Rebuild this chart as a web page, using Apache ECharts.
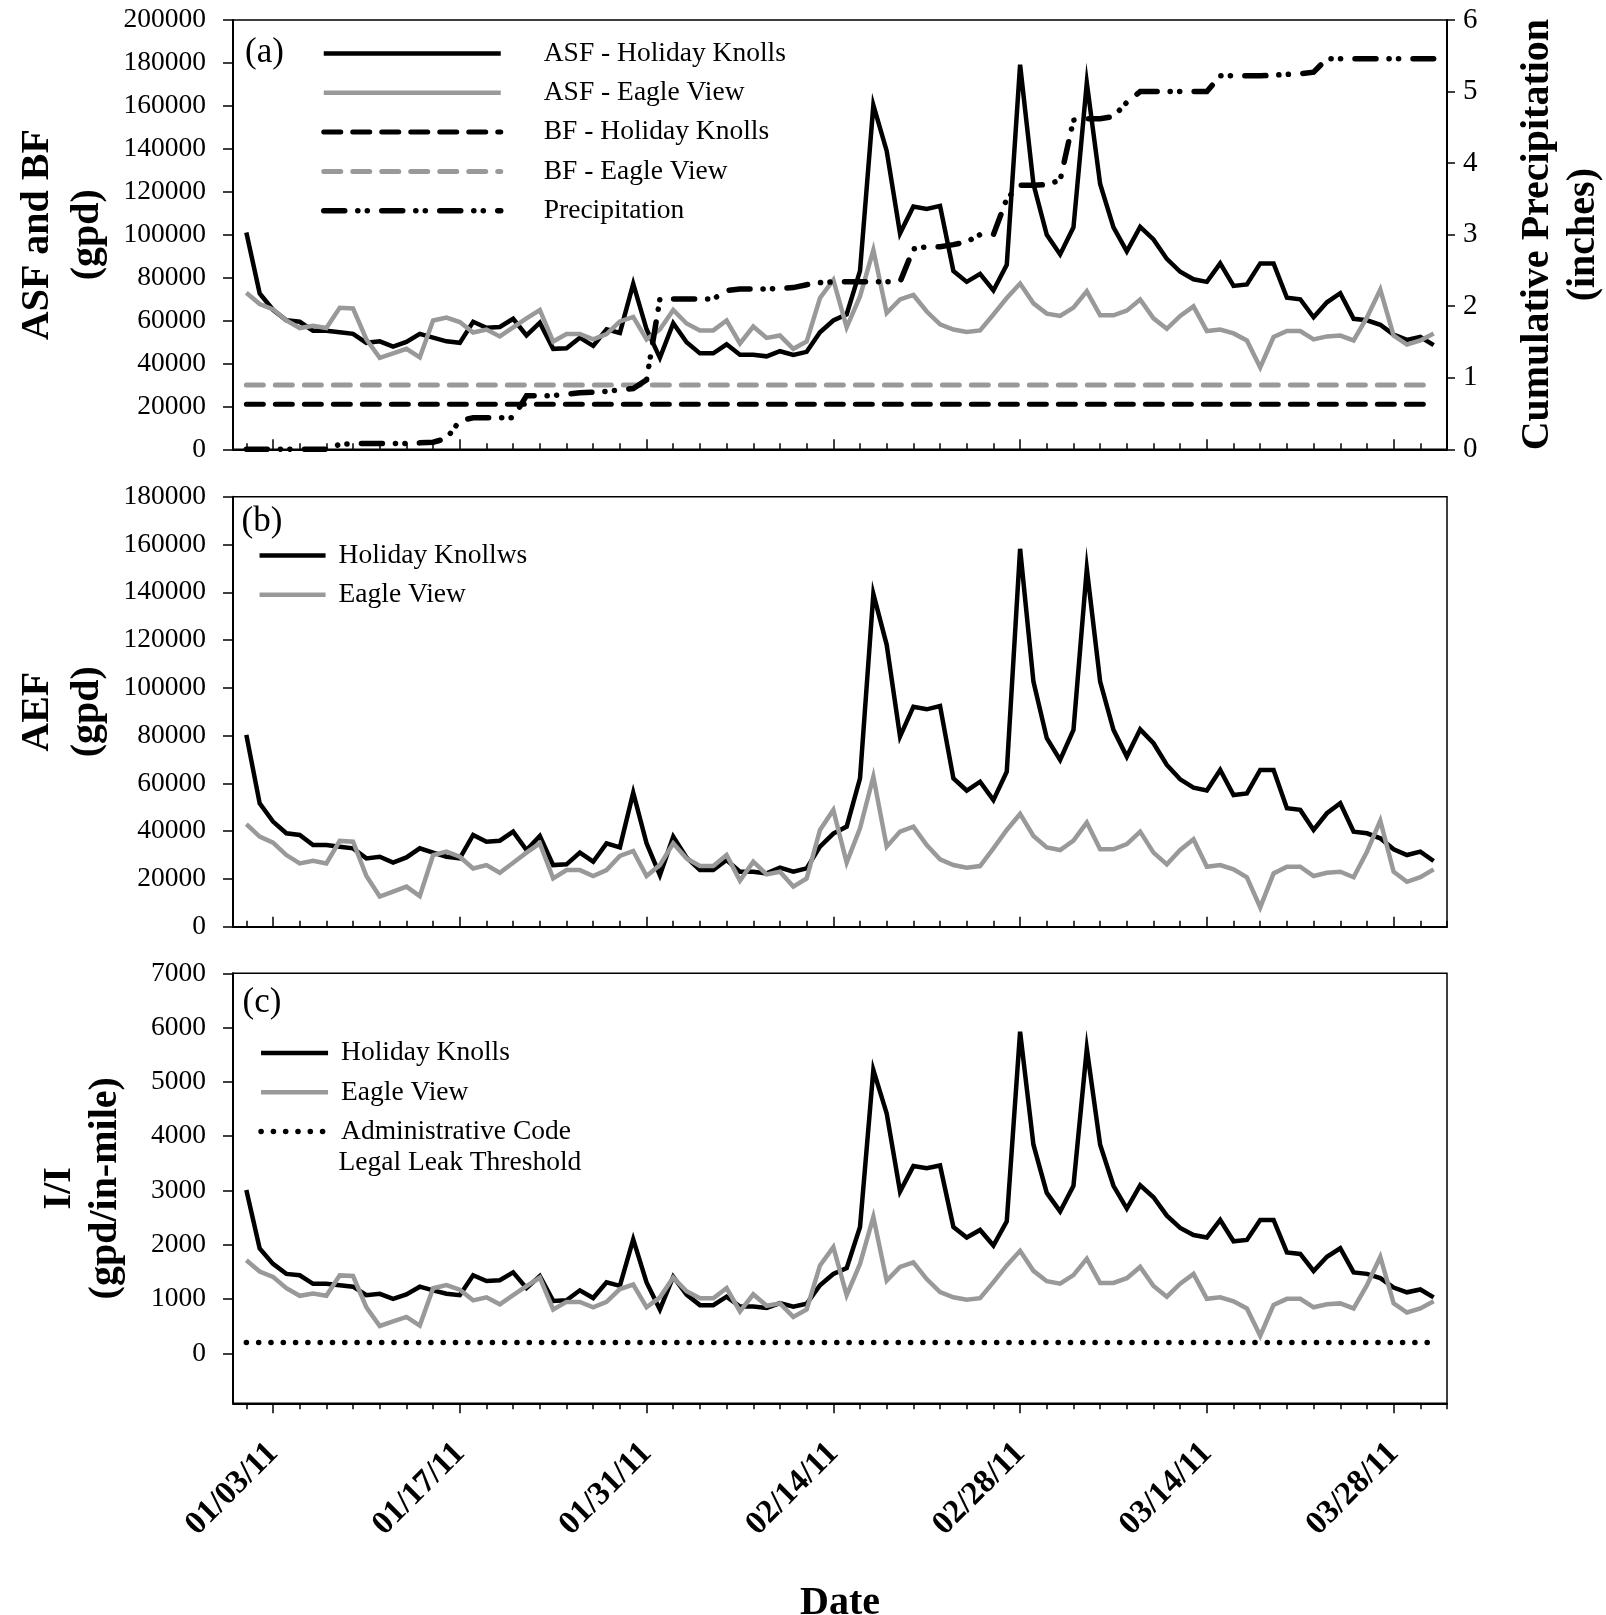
<!DOCTYPE html>
<html><head><meta charset="utf-8">
<script src="https://cdn.jsdelivr.net/npm/echarts@6/dist/echarts.min.js"></script>
<style>html,body{margin:0;padding:0;background:#fff}#c{width:1606px;height:1615px}</style>
</head><body><div id="c"></div>
<script>
// ---- Data (daily, 01/01/11 .. 03/31/11) ----
const asfHolidayKnolls = [101000,72600,65000,60100,59400,55200,55200,54500,53800,49600,50300,47800,50000,53800,52000,50300,49600,59400,56600,57000,60800,53100,59000,46800,47100,52000,48200,55900,54200,77100,55900,42600,58700,49900,44700,44700,48900,44000,44000,43300,45700,44000,45400,54500,60000,62900,83100,160300,139000,100600,113100,112000,113400,83100,78000,81700,74000,85900,179200,123600,99900,90800,103400,170800,123600,103400,92200,103600,97800,88700,82700,79200,78000,86600,76100,76800,86600,86600,70600,69900,61500,68500,72700,60800,60100,58000,53400,51000,52400,48500];
const asfEagleView = [72900,67700,65200,60000,56500,57600,56500,65900,65600,51200,42600,44700,46800,42800,60000,61400,59300,54400,55800,52600,56800,61000,64900,50200,53700,53700,51200,53700,59600,61700,51200,55800,64900,58600,55400,55400,60000,49300,57200,51900,53000,46800,50200,70500,78900,56800,71200,92800,63500,69800,71900,64200,58200,55800,54700,55400,62800,70500,77200,68000,63200,62100,66000,73600,62400,62400,64600,69800,61000,56100,62100,66600,55100,55800,54000,50700,38100,52300,55100,55100,51200,52600,53000,50700,61400,74400,53000,48800,50700,54000];
const bfHolidayKnolls = 21000;
const bfEagleView = 30000;
const precipitation = [0,0,0,0,0,0,0,0.07,0.08,0.08,0.08,0.08,0.08,0.09,0.10,0.15,0.40,0.44,0.44,0.44,0.44,0.75,0.75,0.75,0.77,0.79,0.80,0.81,0.83,0.85,0.97,2.10,2.10,2.10,2.10,2.10,2.22,2.24,2.24,2.24,2.25,2.26,2.30,2.33,2.34,2.34,2.34,2.34,2.34,2.34,2.80,2.83,2.83,2.86,2.90,3.00,3.00,3.50,3.69,3.69,3.70,3.76,4.60,4.62,4.62,4.65,4.85,5.00,5.00,5.00,5.00,5.00,5.00,5.22,5.22,5.22,5.22,5.23,5.24,5.25,5.27,5.46,5.46,5.46,5.46,5.46,5.46,5.46,5.46,5.46];
const aefHolidayKnolls = [80300,51600,44000,39100,38400,34200,34200,33500,32800,28600,29300,26800,29000,32800,31000,29300,28600,38400,35600,36000,39800,32100,38000,25800,26100,31000,27200,34900,33200,56100,34900,21600,37700,28900,23700,23700,27900,23000,23000,22300,24700,23000,24400,33500,39000,41900,62100,139300,118000,79600,92100,91000,92400,62100,57000,60700,53000,64900,158200,102600,78900,69800,82400,149800,102600,82400,71200,82600,76800,67700,61700,58200,57000,65600,55100,55800,65600,65600,49600,48900,40500,47500,51700,39800,39100,37000,32400,30000,31400,27500];
const aefEagleView = [42900,37700,35200,30000,26500,27600,26500,35900,35600,21200,12600,14700,16800,12800,30000,31400,29300,24400,25800,22600,26800,31000,34900,20200,23700,23700,21200,23700,29600,31700,21200,25800,34900,28600,25400,25400,30000,19300,27200,21900,23000,16800,20200,40500,48900,26800,41200,62800,33500,39800,41900,34200,28200,25800,24700,25400,32800,40500,47200,38000,33200,32100,36000,43600,32400,32400,34600,39800,31000,26100,32100,36600,25100,25800,24000,20700,8100,22300,25100,25100,21200,22600,23000,20700,31400,44400,23000,18800,20700,24000];
const iiHolidayKnolls = [3010,1933,1648,1464,1438,1281,1281,1255,1228,1071,1097,1004,1086,1228,1161,1097,1071,1438,1333,1348,1491,1202,1423,966,978,1161,1019,1307,1243,2101,1307,809,1412,1082,888,888,1045,861,861,835,925,861,914,1255,1461,1569,2326,5217,4419,2981,3449,3408,3461,2326,2135,2273,1985,2431,5925,3843,2955,2614,3086,5610,3843,3086,2667,3094,2876,2536,2311,2180,2135,2457,2064,2090,2457,2457,1858,1831,1517,1779,1936,1491,1464,1386,1213,1124,1176,1030];
const iiEagleView = [1716,1508,1408,1200,1060,1104,1060,1436,1424,848,504,588,672,512,1200,1256,1172,976,1032,904,1072,1240,1396,808,948,948,848,948,1184,1268,848,1032,1396,1144,1016,1016,1200,772,1088,876,920,672,808,1620,1956,1072,1648,2512,1340,1592,1676,1368,1128,1032,988,1016,1312,1620,1888,1520,1328,1284,1440,1744,1296,1296,1384,1592,1240,1044,1284,1464,1004,1032,960,828,324,892,1004,1004,848,904,920,828,1256,1776,920,752,828,960];
const legalLeakThreshold = 200;
const tickLabels = ['01/03/11','01/17/11','01/31/11','02/14/11','02/28/11','03/14/11','03/28/11'];
const iiTickValues = [0,1000,2000,3000,4000,5000,6000,7000];

// ---- categories: 12/31/10 .. 04/01/11 (one padding day each side) ----
const pad2 = n => (n < 10 ? '0' : '') + n;
const categories = [];
const t0 = Date.UTC(2010, 11, 31);
for (let k = 0; k < asfHolidayKnolls.length + 2; k++) {
  const dt = new Date(t0 + k * 86400000);
  categories.push(pad2(dt.getUTCMonth() + 1) + '/' + pad2(dt.getUTCDate()) + '/' + pad2(dt.getUTCFullYear() % 100));
}
const padded = arr => [null].concat(arr, [null]);
const constant = v => padded(asfHolidayKnolls.map(() => v));

const SERIF = 'Liberation Serif';
const GRAY = '#999999';
const L = 233, W = 1214;
const grids = [
  {left: L, width: W, top: 20, height: 429.3},
  {left: L, width: W, top: 496.7, height: 430},
  {left: L, width: W, top: 973.3, height: 430}
].map(g => Object.assign(g, {show: true, borderColor: '#000', borderWidth: 1.5, outerBoundsMode: 'none', containLabel: false}));

const isMinor = (idx) => idx % 2 === 1;
const isMajor = (idx, val) => tickLabels.indexOf(val) >= 0;

function xAxes(gi, inside, withLabels) {
  return [
    {type: 'category', gridIndex: gi, data: categories, boundaryGap: false, position: 'bottom',
     axisLine: {show: true, onZero: false, lineStyle: {color: '#000', width: 2}},
     axisTick: {show: true, inside: inside, length: 6, interval: isMinor, lineStyle: {color: '#000', width: 1.5}},
     axisLabel: {show: false}, splitLine: {show: false}},
    {type: 'category', gridIndex: gi, data: categories, boundaryGap: false, position: 'bottom',
     axisLine: {show: false, onZero: false},
     axisTick: {show: true, inside: inside, length: 10, interval: isMajor, lineStyle: {color: '#000', width: 1.5}},
     axisLabel: withLabels ? {show: true, interval: isMajor, rotate: 45, margin: 45, fontFamily: SERIF, fontSize: 33, fontWeight: 'bold', color: '#000'} : {show: false},
     splitLine: {show: false},
     name: withLabels ? 'Date' : '', nameLocation: 'middle', nameGap: 180, nameMoveOverlap: false,
     nameTextStyle: {fontFamily: SERIF, fontSize: 40, fontWeight: 'bold', color: '#000'}}
  ];
}

const nameStyle = (lh) => ({fontFamily: SERIF, fontSize: 40, fontWeight: 'bold', color: '#000', lineHeight: lh});
const labStyle = {fontFamily: SERIF, fontSize: 27.5, color: '#000', formatter: v => String(v)};
function yAxis(gi, min, max, interval, name, extra) {
  return Object.assign({
    type: 'value', gridIndex: gi, min: min, max: max, interval: interval,
    axisLine: {show: true, onZero: false, lineStyle: {color: '#000', width: 2}},
    axisTick: {show: true, inside: false, length: 10, lineStyle: {color: '#000', width: 1.5}},
    axisLabel: Object.assign({margin: 27}, labStyle),
    splitLine: {show: false},
    name: name, nameLocation: 'middle', nameRotate: 90, nameGap: 114, nameTextStyle: nameStyle(50)
  }, extra || {});
}

const line = (name, data, xi, yi, color, width, type, cap, z) => ({
  type: 'line', name: name, data: data, xAxisIndex: xi, yAxisIndex: yi,
  symbol: 'none', showSymbol: false, silent: true, z: z || 2,
  lineStyle: {color: color, width: width, type: type || 'solid', cap: cap || 'butt', join: 'miter'},
  itemStyle: {color: color}
});

const precipDash = [21, 13, 0.1, 9.4, 0.1, 14.4];
const bfDash = [17, 12];
const dotDash = [0.1, 12.2];
const thresholdName = 'Administrative Code';

const legendBase = (left, top, iw, padLeft, data) => ({
  orient: 'vertical', left: left, top: top, itemWidth: iw, itemHeight: 14, itemGap: 11.3, padding: 0,
  selectedMode: false, data: data,
  itemStyle: {opacity: 0},
  lineStyle: {width: 'inherit', type: 'inherit', cap: 'inherit'},
  textStyle: {fontFamily: SERIF, fontSize: 27.5, lineHeight: 27, color: '#000', padding: [0, 0, 0, padLeft]}
});

const titleStyle = {fontFamily: SERIF, fontSize: 35, fontWeight: 'normal', color: '#000'};

const option = {
  animation: false,
  backgroundColor: '#fff',
  textStyle: {fontFamily: SERIF},
  title: [
    {text: '(a)', left: 245, top: 35.5, padding: 0, textStyle: titleStyle},
    {text: '(b)', left: 241.5, top: 504, padding: 0, textStyle: titleStyle},
    {text: '(c)', left: 242.5, top: 985.5, padding: 0, textStyle: titleStyle}
  ],
  graphic: [
    {type: 'text', left: 338.5, top: 1148.5, silent: true,
     style: {text: 'Legal Leak Threshold', fontFamily: SERIF, fontSize: 27.5, fill: '#000'}}
  ],
  grid: grids,
  xAxis: [].concat(xAxes(0, true, false), xAxes(1, true, false), xAxes(2, false, true)),
  yAxis: [
    yAxis(0, 0, 200000, 20000, 'ASF and BF\n(gpd)'),
    yAxis(0, 0, 6, 1, 'Cumulative Precipitation\n(inches)', {
      position: 'right', nameGap: 68, nameTextStyle: nameStyle(46),
      axisTick: {show: true, inside: false, length: 8, lineStyle: {color: '#000', width: 1.5}},
      axisLabel: Object.assign({margin: 16}, labStyle, {fontSize: 29})
    }),
    yAxis(1, 0, 180000, 20000, 'AEF\n(gpd)'),
    yAxis(2, -920, 7000, null, 'I/I\n(gpd/in-mile)', {
      nameGap: 104, nameTextStyle: nameStyle(46),
      axisTick: {show: true, inside: false, length: 10, customValues: iiTickValues, lineStyle: {color: '#000', width: 1.5}},
      axisLabel: Object.assign({margin: 27, customValues: iiTickValues}, labStyle)
    })
  ],
  legend: [
    legendBase(321, 39.5, 177, 38, ['ASF - Holiday Knolls', 'ASF - Eagle View', 'BF - Holiday Knolls', 'BF - Eagle View', 'Precipitation']),
    legendBase(257.3, 541.5, 66, 8, ['Holiday Knollws', 'Eagle View']),
    legendBase(258.3, 1039, 67, 8, ['Holiday Knolls', 'Eagle View', thresholdName])
  ],
  series: [
    line('ASF - Holiday Knolls', padded(asfHolidayKnolls), 0, 0, '#000', 4.5, 'solid', 'butt', 3),
    line('ASF - Eagle View', padded(asfEagleView), 0, 0, GRAY, 4.5, 'solid', 'butt', 4),
    line('BF - Holiday Knolls', constant(bfHolidayKnolls), 0, 0, '#000', 5, bfDash, 'round', 2),
    line('BF - Eagle View', constant(bfEagleView), 0, 0, GRAY, 5, bfDash, 'round', 2),
    line('Precipitation', padded(precipitation), 0, 1, '#000', 5.5, precipDash, 'round', 5),
    line('Holiday Knollws', padded(aefHolidayKnolls), 2, 2, '#000', 4.5, 'solid', 'butt', 3),
    line('Eagle View', padded(aefEagleView), 2, 2, GRAY, 4.5, 'solid', 'butt', 4),
    line('Holiday Knolls', padded(iiHolidayKnolls), 4, 3, '#000', 4.5, 'solid', 'butt', 3),
    line('Eagle View', padded(iiEagleView), 4, 3, GRAY, 4.5, 'solid', 'butt', 4),
    line(thresholdName, constant(legalLeakThreshold), 4, 3, '#000', 5.5, dotDash, 'round', 2)
  ]
};

const chart = echarts.init(document.getElementById('c'), null, {renderer: 'canvas'});
chart.setOption(option);
</script>
</body></html>
